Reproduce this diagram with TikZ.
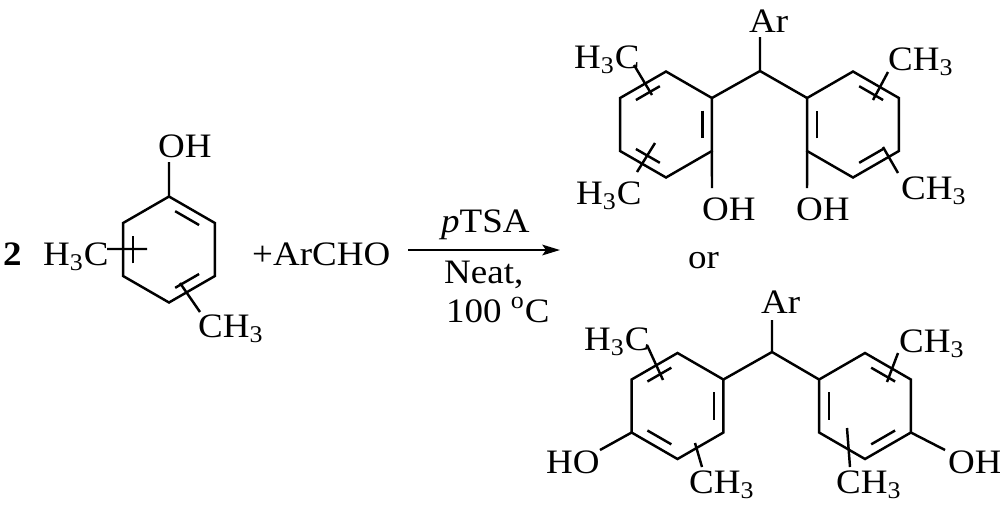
\documentclass[tikz,border=0pt]{standalone}
\usepackage{fontspec}
\setmainfont{Liberation Serif}[FakeStretch=1.08]
\usetikzlibrary{calc,arrows.meta}

\newcommand{\hexring}[3]{%
  \coordinate (#1c) at (#2,#3);
  \foreach \k/\a in {1/-90,2/-30,3/30,4/90,5/150,6/210}
    \coordinate (#1\k) at ($(#1c)+(\a:53)$);
  \draw (#11) -- (#12) -- (#13) -- (#14) -- (#15) -- (#16) -- cycle;}
\newcommand{\dbond}[3]{%
  \draw ($($(#1)!0.17!(#2)$)!0.21!(#3)$) -- ($($(#2)!0.17!(#1)$)!0.21!(#3)$);}

\tikzset{lbl/.style={inner sep=0pt,anchor=base west,font=\fontsize{19.5}{23}\selectfont}}

\begin{document}
\begin{tikzpicture}[x=0.02cm,y=-0.02cm,line width=1.4pt]
            \useasboundingbox (0,0) rectangle (1000,512);

            \node (two) at (2,265) [lbl] {\textbf{2}};
            \node (meR1) at (42,265) [lbl] {H\textsubscript{3}C};
            \node (ohR) at (157,157) [lbl] {OH};
            \node (meR2) at (197,337) [lbl] {CH\textsubscript{3}};
            \node (ald) at (251,265) [lbl] {+ArCHO};

            \hexring{R}{169}{249.5}
            \dbond{R1}{R2}{Rc} \dbond{R3}{R4}{Rc} \dbond{R5}{R6}{Rc}
            \coordinate (ohRb) at (169,162);
            \coordinate (meR1a) at (107,249);
            \coordinate (meR1b) at (147,249);
            \coordinate (meR2a) at (180,283);
            \coordinate (meR2b) at (200,312);
            \draw (R1) -- (ohRb) (meR1a) -- (meR1b) (meR2a) -- (meR2b);

            \coordinate (arrS) at (408,250);
            \coordinate (arrE) at (560,250);
            \draw[-{Stealth[length=10pt,width=6pt,inset=2pt]}] (arrS) -- (arrE);
            \node (cat) at (440,232) [lbl] {\textit{p}TSA};
            \node (neat) at (443,283) [lbl] {Neat,};
            \node (temp) at (445,322) [lbl] {100 \textsuperscript{o}C};
            \node (or) at (687,268) [lbl] {or};

            \node (arT) at (748,32) [lbl] {Ar};
            \node (meT1) at (573,68) [lbl] {H\textsubscript{3}C};
            \node (meT2) at (575,204) [lbl] {H\textsubscript{3}C};
            \node (ohT1) at (701,220) [lbl] {OH};
            \node (ohT2) at (795,220) [lbl] {OH};
            \node (meT3) at (887,70) [lbl] {CH\textsubscript{3}};
            \node (meT4) at (900,199) [lbl] {CH\textsubscript{3}};

            \hexring{TL}{666}{124.5}
            \hexring{TR}{853}{124.5}
            \dbond{TL2}{TL3}{TLc} \dbond{TL6}{TL1}{TLc} \dbond{TL4}{TL5}{TLc}
            \dbond{TR5}{TR6}{TRc} \dbond{TR1}{TR2}{TRc} \dbond{TR3}{TR4}{TRc}
            \coordinate (arTb) at (760,37);
            \coordinate (cT) at (760,71);
            \coordinate (ohT1b) at (712,188);
            \coordinate (ohT2b) at (807,188);
            \coordinate (meT1a) at (634,65);
            \coordinate (meT1b) at (652,95);
            \coordinate (meT2a) at (637,172);
            \coordinate (meT2b) at (655,143);
            \coordinate (meT3a) at (888,72);
            \coordinate (meT3b) at (873,100);
            \coordinate (meT4a) at (898,173);
            \coordinate (meT4b) at (883,147);
            \draw (arTb) -- (cT) (cT) -- (TL2) (cT) -- (TR6) (TL3) -- (ohT1b) (TR5) -- (ohT2b);
            \draw (meT1a) -- (meT1b) (meT2a) -- (meT2b) (meT3a) -- (meT3b) (meT4a) -- (meT4b);

            \node (arB) at (760,313) [lbl] {Ar};
            \node (meB1) at (583,350) [lbl] {H\textsubscript{3}C};
            \node (meB2) at (688,493) [lbl] {CH\textsubscript{3}};
            \node (hoB) at (545,473) [lbl] {HO};
            \node (meB3) at (898,352) [lbl] {CH\textsubscript{3}};
            \node (meB4) at (835,493) [lbl] {CH\textsubscript{3}};
            \node (ohB) at (947,473) [lbl] {OH};

            \hexring{BL}{677.5}{406}
            \hexring{BR}{865}{406}
            \dbond{BL1}{BL6}{BLc} \dbond{BL2}{BL3}{BLc} \dbond{BL4}{BL5}{BLc}
            \dbond{BR5}{BR6}{BRc} \dbond{BR1}{BR2}{BRc} \dbond{BR3}{BR4}{BRc}
            \coordinate (arBb) at (772,320);
            \coordinate (cB) at (772,352);
            \coordinate (hoBb) at (600,450);
            \coordinate (ohBb) at (945,450);
            \coordinate (meB1a) at (647,345);
            \coordinate (meB1b) at (663,380);
            \coordinate (meB2a) at (695,443);
            \coordinate (meB2b) at (702,467);
            \coordinate (meB3a) at (898,353);
            \coordinate (meB3b) at (887,382);
            \coordinate (meB4a) at (847,428);
            \coordinate (meB4b) at (850,467);
            \draw (arBb) -- (cB) (cB) -- (BL2) (cB) -- (BR6) (BL5) -- (hoBb) (BR3) -- (ohBb);
            \draw (meB1a) -- (meB1b) (meB2a) -- (meB2b) (meB3a) -- (meB3b) (meB4a) -- (meB4b);

        \end{tikzpicture}
\end{document}
